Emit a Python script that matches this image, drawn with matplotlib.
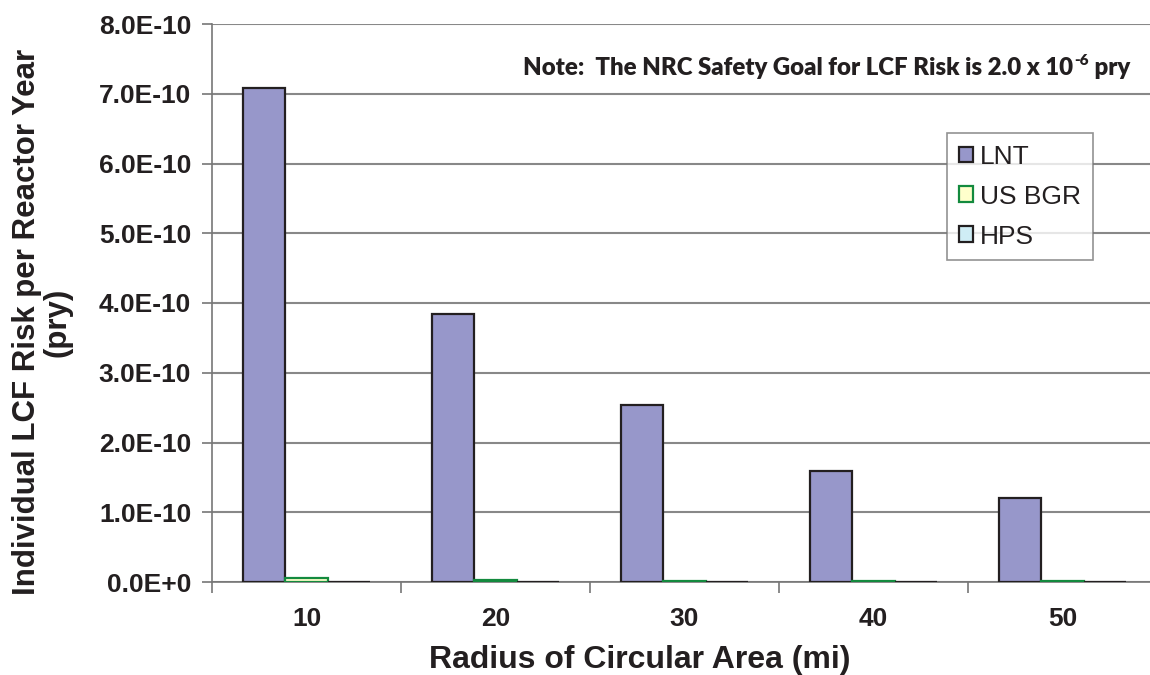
import numpy as np
import matplotlib.pyplot as plt
from matplotlib.ticker import FixedLocator

# values (risk per reactor year)
radius = ["10", "20", "30", "40", "50"]
lnt = [7.08e-10, 3.84e-10, 2.54e-10, 1.59e-10, 1.21e-10]
us_bgr = [6.0e-12, 3.0e-12, 1.0e-12, 1.0e-12, 0.8e-12]
hps = [0.0, 0.0, 0.0, 0.0, 0.0]
y_ticks = [0, 1e-10, 2e-10, 3e-10, 4e-10, 5e-10, 6e-10, 7e-10, 8e-10]
y_tick_labels = ["0.0E+0", "1.0E-10", "2.0E-10", "3.0E-10", "4.0E-10",
                 "5.0E-10", "6.0E-10", "7.0E-10", "8.0E-10"]

plt.rcParams['font.family'] = ['Liberation Sans', 'DejaVu Sans']
dark = '#231F20'

fig = plt.figure(figsize=(11.5, 6.75), dpi=100)
ax = fig.add_axes([212/1150, 1-582/675, 945/1150, 558/675])

x = np.arange(len(radius))
w = 0.225
ax.bar(x - w, lnt, w, color='#9797CA', edgecolor=dark, linewidth=1.6, label='LNT', zorder=3)
ax.bar(x, us_bgr, w, color='#FFFFCC', edgecolor='#138A3E', linewidth=1.6, label='US BGR', zorder=3)
ax.bar(x + w, hps, w, color='#CFEDF5', edgecolor=dark, linewidth=1.6, label='HPS', zorder=3)

ax.set_xlim(-0.5, len(radius) - 0.5)
ax.set_ylim(0, 8e-10)
ax.yaxis.set_major_locator(FixedLocator(y_ticks))
ax.set_yticklabels(y_tick_labels)
ax.set_xticks(x)
ax.set_xticklabels(radius)
ax.set_xticks(np.arange(len(radius) + 1) - 0.5, minor=True)
ax.tick_params(axis='x', which='major', length=0, pad=18, labelsize=19)
ax.tick_params(axis='x', which='minor', length=8, width=1.2, color='#777777', direction='out')
ax.tick_params(axis='y', length=7, width=1.2, color='#777777', labelsize=19, pad=8)
for lab in ax.get_xticklabels() + ax.get_yticklabels():
    lab.set_fontweight('bold')
    lab.set_color(dark)

ax.grid(axis='y', color='#888888', linewidth=1.5, zorder=0)
for s in ['top', 'right']:
    ax.spines[s].set_visible(False)
for s in ['left', 'bottom']:
    ax.spines[s].set_color('#777777')
    ax.spines[s].set_linewidth(1.2)

ax.set_xlabel("Radius of Circular Area (mi)", fontsize=23, fontweight='bold', color=dark)
ax.xaxis.set_label_coords((640-212)/945, -(660-582)/558)
ax.xaxis.label.set_va('center')
fig.text(27/1150, 1-322/675, "Individual LCF Risk per Reactor Year", rotation=90,
         fontsize=22.5, fontweight='bold', color=dark, ha='center', va='center')
fig.text(58/1150, 1-322/675, "(pry)", rotation=90,
         fontsize=22.5, fontweight='bold', color=dark, ha='center', va='center')

# note with superscript, built from pieces
note_font = dict(fontweight='heavy', family=['Lato', 'DejaVu Sans'], color=dark)
t1 = fig.text(523/1150, 1-79/675, "Note:  The NRC Safety Goal for LCF Risk is 2.0 x 10",
              fontsize=17.3, ha='left', va='bottom', **note_font)
t2 = ax.annotate("-6", xy=(1.0, 0.55), xycoords=t1, xytext=(1, 0), textcoords='offset points',
                 fontsize=11, ha='left', va='bottom', **note_font)
ax.annotate(" pry", xy=(1.0, 0.0), xycoords=(t2, t1),
            fontsize=17.3, ha='left', va='bottom', **note_font)

leg = ax.legend(loc='upper left', bbox_to_anchor=(947/1150, 1-133/675),
                bbox_transform=fig.transFigure, fontsize=19, frameon=True, fancybox=False,
                edgecolor='#777777', handlelength=0.55, handleheight=0.55,
                handletextpad=0.25, labelspacing=0.6, borderpad=0.45, borderaxespad=0)
leg.get_frame().set_linewidth(1.2)
for t in leg.get_texts():
    t.set_color(dark)

fig.savefig("out.png", dpi=100)
